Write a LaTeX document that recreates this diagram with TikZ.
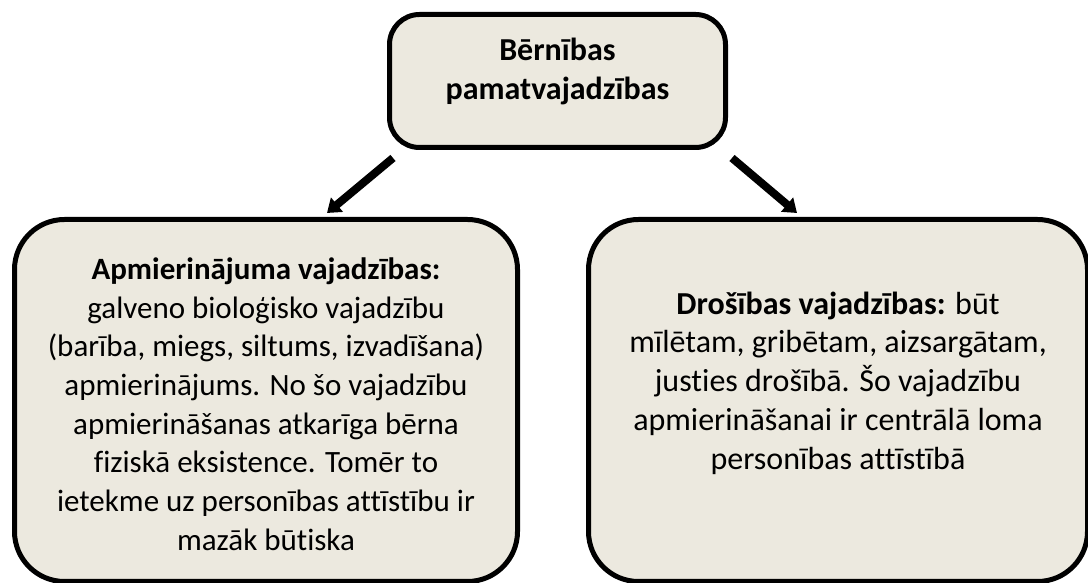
\documentclass[tikz,border=0pt]{standalone}
\usepackage{fontspec}
\setmainfont{Carlito}[Ligatures={NoCommon}]
\usetikzlibrary{arrows.meta,calc}
\definecolor{boxfill}{RGB}{236,233,223}
\begin{document}
\begin{tikzpicture}[x=0.5pt, y=0.5pt, line join=round,
    needbox/.style={draw=black, line width=2.5pt, fill=boxfill, rounded corners=25pt},
    needtext/.style={align=center, font=\fontsize{16}{19.35}\selectfont},
    needarrow/.style={line width=4pt, -{Triangle[width=9pt,length=6.5pt]}}]

    \useasboundingbox (0,0) rectangle (1088,583);
    \clip (0,0) rectangle (1088,583);

    \node[needbox, rounded corners=15pt, minimum width=168pt, minimum height=66.5pt] (berniba) at (557.5,502) {};
    \node[needbox, minimum width=251.5pt, minimum height=181pt] (apmier) at (266,182.5) {};
    \node[needbox, minimum width=249.5pt, minimum height=181pt] (drosiba) at (838,182.5) {};

    \node[needtext] (bernibaT) at (557.5,511.5) {\textbf{Bērnības}\\\textbf{pamatvajadzības}};
    \node[needtext, font=\fontsize{15.5}{19.35}\selectfont] (apmierT) at (266,179) {\textbf{Apmierinājuma vajadzības:}\\galveno bioloģisko vajadzību\\(barība, miegs, siltums, izvadīšana)\\apmierinājums. No šo vajadzību\\apmierināšanas atkarīga bērna\\fiziskā eksistence. Tomēr to\\ietekme uz personības attīstību ir\\mazāk būtiska};
    \node[needtext] (drosibaT) at (838,200) {\textbf{Drošības vajadzības:} būt\\mīlētam, gribētam, aizsargātam,\\justies drošībā. Šo vajadzību\\apmierināšanai ir centrālā loma\\personības attīstībā};

    \draw[needarrow] ($(berniba.south west)+(6,-8)$) -- ($(apmier.north)+(61,4)$);
    \draw[needarrow] ($(berniba.south east)+(4,-8)$) -- ($(drosiba.north)+(-41,4)$);

\end{tikzpicture}
\end{document}
